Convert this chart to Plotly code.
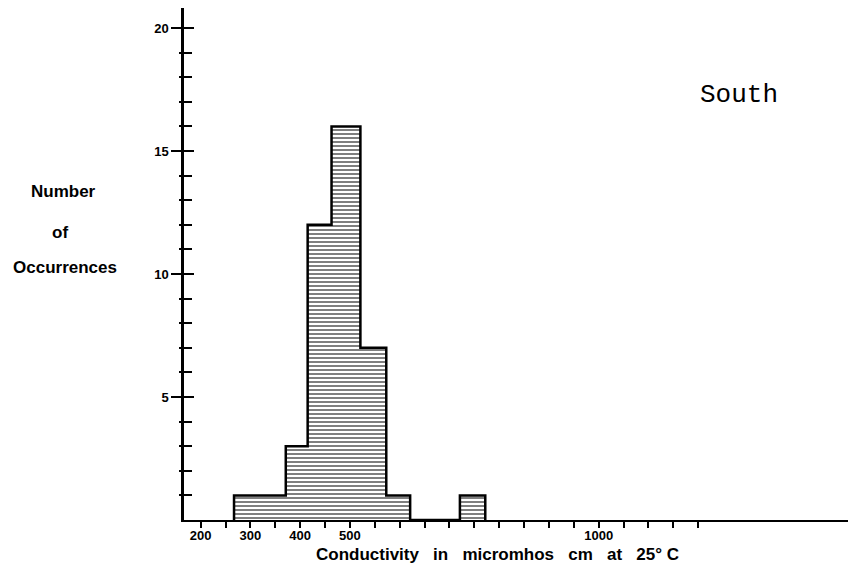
import plotly.graph_objects as go

# ---- data ----
bin_edges = [267, 371, 415, 463, 521, 573, 621, 721, 772]
counts = [1, 3, 12, 16, 7, 1, 0, 1]

x_tick_vals = list(range(200, 1201, 50))
x_tick_labels = {200: "200", 300: "300", 400: "400", 500: "500", 1000: "1000"}
y_tick_vals = [5, 10, 15, 20]
y_minor_vals = list(range(1, 21))

# page has an 8px body margin; figure drawn at (8, 8); keep it inside the window
OFF = 8
W, H = 856 - OFF, 572 - 2 * OFF
L, R, T, B = 184 - OFF, 0, 0, H - (520 - OFF)
plot_w = W - L - R
plot_h = H - T - B


def px(xp, yp):
    """page pixel -> paper coords"""
    xf, yf = xp - OFF, yp - OFF
    return (xf - L) / plot_w, (H - B - yf) / plot_h


centers = [(a + b) / 2 for a, b in zip(bin_edges[:-1], bin_edges[1:])]
widths = [b - a for a, b in zip(bin_edges[:-1], bin_edges[1:])]

fig = go.Figure()

fig.add_trace(go.Bar(
    x=centers, y=counts, width=widths,
    marker=dict(color="white", line=dict(width=0),
                pattern=dict(shape="-", fgcolor="black", bgcolor="white",
                             size=4, solidity=0.5)),
    showlegend=False, hoverinfo="skip",
))

# outline of histogram (step)
out_x = [bin_edges[0]] + bin_edges
out_y = [0] + counts + [0]
fig.add_trace(go.Scatter(
    x=out_x, y=out_y, mode="lines", line=dict(color="black", width=2.5, shape="hv"),
    showlegend=False, hoverinfo="skip",
))

# dummy trace for the second y axis (inner ticks)
fig.add_trace(go.Scatter(x=[None], y=[None], yaxis="y2", showlegend=False, hoverinfo="skip"))

y_top = 20 + (28 - 8) / 24.6
yr = [0, y_top]
x_left = 200 + (184 - 200.7) / 0.4975
x_right = 200 + (184 + plot_w - 200.7) / 0.4975
xr = [x_left, x_right]

tickfont = dict(family="Liberation Sans", size=13, color="black", weight="bold")

fig.update_layout(
    width=W, height=H,
    margin=dict(l=L, r=R, t=T, b=B),
    paper_bgcolor="white", plot_bgcolor="white",
    bargap=0,
    xaxis=dict(
        range=xr, showgrid=False, zeroline=False,
        showline=True, linecolor="black", linewidth=2,
        ticks="outside", ticklen=6, tickwidth=2, tickcolor="black",
        tickmode="array", tickvals=x_tick_vals,
        ticktext=[x_tick_labels.get(v, "") for v in x_tick_vals],
        tickfont=tickfont, ticklabelstandoff=-4,
    ),
    yaxis=dict(
        range=yr, showgrid=False, zeroline=False,
        showline=True, linecolor="black", linewidth=2.5,
        ticks="outside", ticklen=10, tickwidth=2, tickcolor="black",
        tickmode="array", tickvals=y_tick_vals,
        ticktext=[str(v) for v in y_tick_vals],
        tickfont=dict(family="Liberation Sans", size=13, color="black", weight="bold"),
        minor=dict(ticks="outside", ticklen=2, tickwidth=1.5, tickcolor="black",
                   tickmode="array", tickvals=y_minor_vals),
    ),
    yaxis2=dict(
        range=yr, overlaying="y", anchor="x", side="left",
        showgrid=False, zeroline=False, showline=False,
        ticks="inside", ticklen=10, tickwidth=2, tickcolor="black",
        tickmode="array", tickvals=y_tick_vals, showticklabels=False,
        minor=dict(ticks="inside", ticklen=8, tickwidth=1.5, tickcolor="black",
                   tickmode="array", tickvals=y_minor_vals),
    ),
)

lab_font = dict(family="Liberation Sans", size=17, color="black", weight="bold")
for text, xp, yp in [("Number", 63, 191), ("of", 60, 232), ("Occurrences", 65, 267)]:
    ax, ay = px(xp, yp)
    fig.add_annotation(text=text, x=ax, y=ay, xref="paper", yref="paper",
                       showarrow=False, font=lab_font, xanchor="center", yanchor="middle")

sp = "\u00a0" * 3
xt = f"Conductivity{sp}in{sp}micromhos{sp}cm{sp}at{sp}25°\u00a0C"
ax, ay = px(497, 554)
fig.add_annotation(text=xt, x=ax, y=ay, xref="paper", yref="paper", showarrow=False,
                   font=dict(family="Liberation Sans", size=17, color="black", weight="bold"),
                   xanchor="center", yanchor="middle")

ax, ay = px(739, 95)
fig.add_annotation(text="South", x=ax, y=ay, xref="paper", yref="paper", showarrow=False,
                   font=dict(family="Liberation Mono", size=26, color="black"),
                   xanchor="center", yanchor="middle")

fig.write_html("out.html")
